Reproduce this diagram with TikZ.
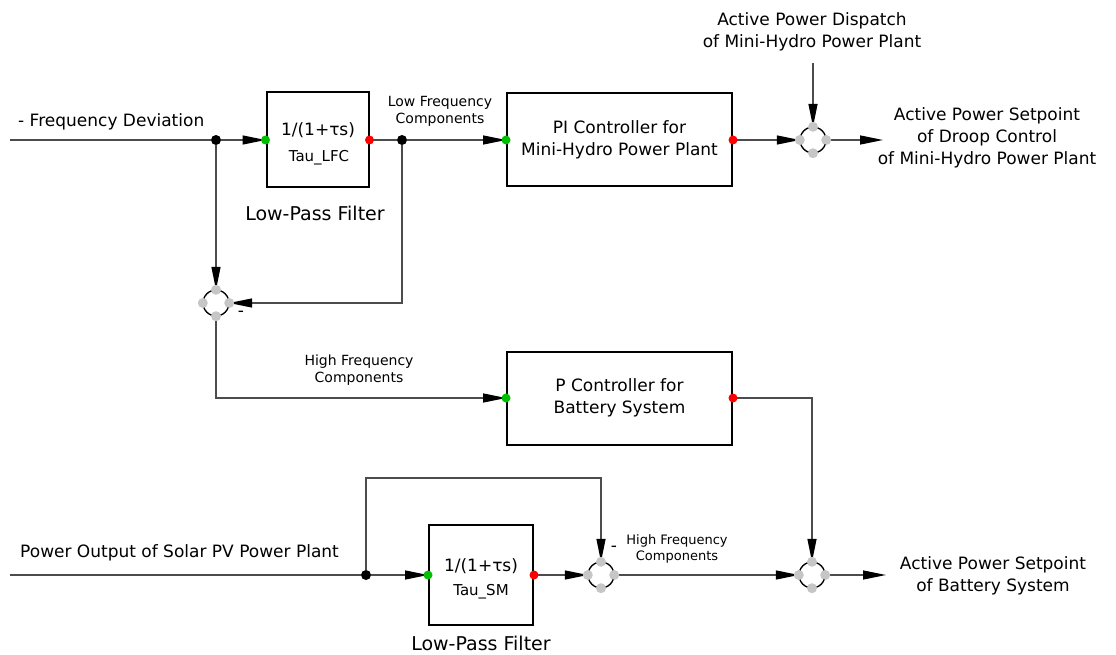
\documentclass[tikz,border=0pt]{standalone}
\usepackage{fontspec}
\setmainfont{DejaVu Sans}
\usetikzlibrary{arrows.meta}

\begin{document}
\begin{tikzpicture}[x=1pt,y=-1pt,
 wire/.style={draw=black!70,line width=1.3pt},
 arr/.style={wire,-{Triangle[length=23pt,width=9pt,color=black]}},
 blk/.style={draw=black,line width=2pt,minimum width=225pt,minimum height=93pt,inner sep=0pt,align=center,font=\fontsize{17}{22}\selectfont},
 lpf/.style={draw=black,line width=2pt,minimum width=102pt,minimum height=95pt,inner sep=0pt},
 sumj/.style={circle,minimum size=26pt,inner sep=0pt},
 jdot/.style={circle,fill=black,minimum size=10pt,inner sep=0pt},
 lb/.style={font=\fontsize{17}{22}\selectfont,align=center,inner sep=0pt},
 sm/.style={font=\fontsize{14}{17}\selectfont,align=center,inner sep=0pt},
 big/.style={font=\fontsize{19}{22}\selectfont,inner sep=0pt}]
\useasboundingbox (0,0) rectangle (1116,655);

% blocks
\node[blk] (pi) at (619.5,140) {PI Controller for\\Mini-Hydro Power Plant};
\node[blk] (pbat) at (619.5,398) {P Controller for\\Battery System};
\node[lpf] (lfc) at (317.5,140) {};
\node[lpf,minimum width=104pt,minimum height=100pt] (lsm) at (481,575) {};
\node[lb] at (318,130) {1/(1+τs)};
\node[sm,font=\fontsize{15}{18}\selectfont] at (319,158) {Tau\_LFC};
\node[lb] at (481,566) {1/(1+τs)};
\node[sm,font=\fontsize{15}{18}\selectfont] at (481,592) {Tau\_SM};
\node[big] at (315,213) {Low-Pass Filter};
\node[big] at (481,643) {Low-Pass Filter};

% junctions
\node[sumj] (j1) at (813,140) {};
\node[sumj] (j2) at (216,303) {};
\node[sumj] (j3) at (601,575) {};
\node[sumj] (j4) at (812,575) {};
\node[jdot] (d1) at (216,140) {};
\node[jdot] (d2) at (402,140) {};
\node[jdot] (d3) at (366,575) {};

% ends
\coordinate (in1) at (10,140);
\coordinate (in2) at (10,575);
\coordinate (disp) at (813,63);
\coordinate (out1) at (883,140);
\coordinate (out2) at (886,575);
\coordinate (lp) at (366,478);

% labels
\node[lb,anchor=west] at (18,122) {- Frequency Deviation};
\node[lb,anchor=west] at (20,553) {Power Output of Solar PV Power Plant};
\node[lb] at (812,32) {Active Power Dispatch\\of Mini-Hydro Power Plant};
\node[lb] at (987,138) {Active Power Setpoint\\of Droop Control\\of Mini-Hydro Power Plant};
\node[lb] at (993,576) {Active Power Setpoint\\of Battery System};
\node[sm] at (440,111) {Low Frequency\\Components};
\node[sm] at (359,370) {High Frequency\\Components};
\node[sm,font=\fontsize{13}{16}\selectfont] at (677,549) {High Frequency\\Components};
\node[lb] at (241,314) {-};
\node[lb] at (614,549) {-};

% connectors
\draw[wire] (in1) -- (d1);
\draw[arr] (d1) -- (lfc.west);
\draw[wire] (lfc.east) -- (d2);
\draw[arr] (d2) -- (pi.west);
\draw[arr] (pi.east) -- (j1.west);
\draw[arr] (disp) -- (j1.north);
\draw[arr] (j1.east) -- (out1);
\draw[arr] (d1) -- (j2.north);
\draw[arr] (d2) |- (j2.east);
\draw[arr] (j2.south) |- (pbat.west);
\draw[arr] (pbat.east) -| (j4.north);
\draw[wire] (in2) -- (d3);
\draw[arr] (d3) -- (lsm.west);
\draw[arr] (d3) -- (lp) -| (j3.north);
\draw[arr] (lsm.east) -- (j3.west);
\draw[arr] (j3.east) -- (j4.west);
\draw[arr] (j4.east) -- (out2);

% summing points and ports
\foreach \j in {j1,j2,j3,j4} {
  \foreach \a in {0,90,180,270} {
    \draw[black,line width=1.4pt] ([shift={(\a+20:13pt)}]\j.center) arc[start angle=\a+20,end angle=\a+70,radius=13pt];
    \fill[gray!45] (\j.\a) circle (5pt);
  }
}
\foreach \b in {lfc,pi,pbat,lsm} {
  \fill[green!75!black] (\b.west) circle (4.5pt);
  \fill[red] (\b.east) circle (4.5pt);
}
\end{tikzpicture}
\end{document}
